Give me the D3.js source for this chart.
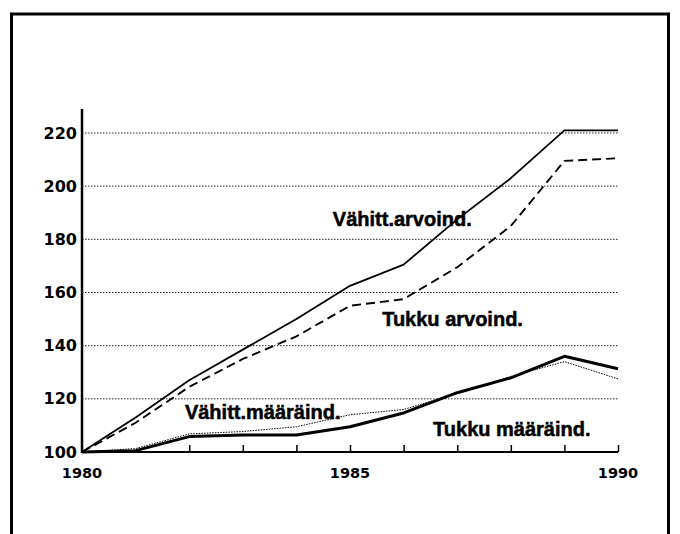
<!DOCTYPE html>
<html>
<head>
<meta charset="utf-8">
<script src="https://cdn.jsdelivr.net/npm/d3@7"></script>
<style>
  body { margin: 0; background: #fff; }
  svg text { font-family: "Liberation Sans", Arial, sans-serif; font-weight: bold; fill: #000; }
  svg .num { font-family: "DejaVu Sans", sans-serif; }
</style>
</head>
<body>
<svg id="chart" width="680" height="534"></svg>
<script>
var years = [1980, 1981, 1982, 1983, 1984, 1985, 1986, 1987, 1988, 1989, 1990];
var vahittArvo = [100, 113, 127, 138.5, 150, 162.5, 170.5, 187.5, 203, 221, 221];
var tukkuArvo = [100, 111, 124.5, 135, 143.5, 155, 157.5, 169.5, 185, 209.5, 210.5];
var vahittMaara = [100, 101.3, 106.8, 107.7, 109.5, 114, 116, 122, 128.4, 134, 127.5];
var tukkuMaara = [100, 100.5, 105.8, 106.4, 106.4, 109.5, 114.7, 122.3, 127.9, 136, 131.3];
var yTicks = [100, 120, 140, 160, 180, 200, 220];
var xTicks = [1982, 1983, 1984, 1985, 1986, 1987, 1988, 1989, 1990];
var xLabels = [1980, 1985, 1990];
var seriesLabels = [
	{ text: "Vähitt.arvoind.", year: 1984.68, value: 185 },
	{ text: "Tukku arvoind.", year: 1985.6, value: 147.5 },
	{ text: "Vähitt.määräind.", year: 1981.92, value: 112.4 },
	{ text: "Tukku määräind.", year: 1986.55, value: 106 }
];

var svg = d3.select("#chart");

var x = d3.scaleLinear().domain([1980, 1990]).range([82, 618]);
var y = d3.scaleLinear().domain([100, 220]).range([452, 133]);

// frame
svg.append("rect")
	.attr("x", 11.5).attr("y", 14)
	.attr("width", 657).attr("height", 540)
	.attr("fill", "none")
	.attr("stroke", "#000")
	.attr("stroke-width", 3);

// dotted grid
svg.append("g")
	.selectAll("line")
	.data(yTicks.slice(1))
	.enter().append("line")
	.attr("x1", x(1980)).attr("x2", x(1990))
	.attr("y1", function(d) { return y(d); })
	.attr("y2", function(d) { return y(d); })
	.attr("stroke", "#222")
	.attr("stroke-width", 1)
	.attr("stroke-dasharray", "1.5,1.5");

// y axis
var yAxis = d3.axisLeft(y).tickValues(yTicks).tickSize(0).tickPadding(5);
var gy = svg.append("g").attr("transform", "translate(" + x(1980) + ",0)").call(yAxis);
gy.select(".domain").remove();
gy.selectAll("text").attr("class", "num").style("font-size", "16px");
svg.append("line")
	.attr("x1", x(1980)).attr("x2", x(1980))
	.attr("y1", y(100) + 1).attr("y2", y(229))
	.attr("stroke", "#000").attr("stroke-width", 2.5);

// x axis, ticks pointing up
var xAxis = d3.axisBottom(x).tickValues(xTicks).tickSize(-7).tickFormat("");
var gx = svg.append("g").attr("transform", "translate(0," + y(100) + ")").call(xAxis);
gx.select(".domain").attr("d", "M" + x(1980) + ",0H" + x(1990)).attr("stroke-width", 1.8);
gx.selectAll(".tick line").attr("stroke-width", 1.5);

svg.append("g")
	.selectAll("text")
	.data(xLabels)
	.enter().append("text")
	.attr("class", "num")
	.attr("x", function(d) { return x(d); })
	.attr("y", y(100) + 26)
	.attr("text-anchor", "middle")
	.style("font-size", "14.5px")
	.text(function(d) { return d; });

var line = d3.line()
	.x(function(d, i) { return x(years[i]); })
	.y(function(d) { return y(d); });

function drawSeries(values, width, dash) {
	svg.append("path")
		.datum(values)
		.attr("d", line)
		.attr("fill", "none")
		.attr("stroke", "#000")
		.attr("stroke-width", width)
		.attr("stroke-linejoin", "round")
		.attr("stroke-dasharray", dash);
}

drawSeries(vahittArvo, 1.8, null);
drawSeries(tukkuArvo, 1.9, "9,5");
drawSeries(tukkuMaara, 3, null);
drawSeries(vahittMaara, 1, "1.5,1.2");

svg.append("g")
	.selectAll("text")
	.data(seriesLabels)
	.enter().append("text")
	.attr("x", function(d) { return x(d.year); })
	.attr("y", function(d) { return y(d.value); })
	.style("font-size", "20px")
	.style("stroke", "#000")
	.style("stroke-width", "0.5px")
	.text(function(d) { return d.text; });
</script>
</body>
</html>
